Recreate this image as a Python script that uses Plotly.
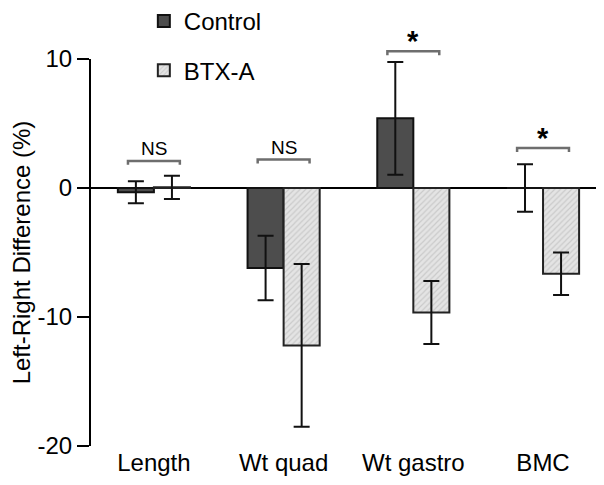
import plotly.graph_objects as go

categories = ["Length", "Wt quad", "Wt gastro", "BMC"]
control_mean = [-0.33, -6.2, 5.4, 0.0]
control_err = [0.85, 2.5, 4.37, 1.85]
btx_mean = [0.05, -12.2, -9.65, -6.65]
btx_err = [0.9, 6.3, 2.45, 1.65]
sig_labels = ["NS", "NS", "*", "*"]
bracket_y = [2.1, 2.2, 10.6, 3.1]
y_ticks = [-20, -10, 0, 10]
y_tick_text = ["-20", "-10", "0", "10"]

FONT = "Liberation Sans, Arial, sans-serif"
X_RANGE = [-0.485, 3.47]
Y_RANGE = [-20, 10]


def px(xv):
    return (xv - X_RANGE[0]) / (X_RANGE[1] - X_RANGE[0])


def py(yv):
    return (yv - Y_RANGE[0]) / (Y_RANGE[1] - Y_RANGE[0])


fig = go.Figure()
fig.add_trace(go.Bar(
    x=categories, y=control_mean, name="Control", legendgroup="c",
    marker=dict(color="#4d4d4d", line=dict(color="#111111", width=2)),
    error_y=dict(type="data", array=control_err, color="#111111", thickness=2, width=8),
))
fig.add_trace(go.Bar(
    x=categories, y=btx_mean, name="BTX-A", legendgroup="b",
    marker=dict(color="#dedede", line=dict(color="#222222", width=2),
                pattern=dict(shape="/", size=4, fgcolor="#b0b0b0", bgcolor="#e4e4e4", solidity=0.3)),
    error_y=dict(type="data", array=btx_err, color="#111111", thickness=2, width=8),
))

shapes = []
annotations = []
half = 0.2
drop = 0.3
for i, (lab, by) in enumerate(zip(sig_labels, bracket_y)):
    x0, x1 = px(i - half), px(i + half)
    y0, y1 = py(by - drop), py(by)
    shapes.append(dict(
        type="path", xref="paper", yref="paper",
        path=f"M {x0} {y0} L {x0} {y1} L {x1} {y1} L {x1} {y0}",
        line=dict(color="#6e6e6e", width=2.5),
    ))
    if lab == "*":
        annotations.append(dict(x=px(i), y=y1, xref="paper", yref="paper", text="<b>*</b>", showarrow=False,
                                xanchor="center", yanchor="bottom", yshift=-8,
                                font=dict(family=FONT, size=29, color="black")))
    else:
        annotations.append(dict(x=px(i), y=y1, xref="paper", yref="paper", text=lab, showarrow=False,
                                xanchor="center", yanchor="bottom", yshift=0,
                                font=dict(family=FONT, size=19, color="black")))

fig.update_layout(
    width=596, height=477,
    margin=dict(l=83, r=0, t=51, b=39, autoexpand=False),
    paper_bgcolor="white", plot_bgcolor="white",
    barmode="group", bargap=0.444, bargroupgap=0,
    font=dict(family=FONT, size=24, color="black"),
    showlegend=True,
    legend=dict(x=0.103, y=1.155, xanchor="left", yanchor="top", bgcolor="rgba(0,0,0,0)",
                font=dict(family=FONT, size=24), tracegroupgap=15, traceorder="grouped"),
    shapes=shapes, annotations=annotations,
    xaxis=dict(range=X_RANGE, showline=False, ticks="", showgrid=False, zeroline=False,
               automargin=False, tickfont=dict(family=FONT, size=24)),
    yaxis=dict(range=Y_RANGE, tickvals=y_ticks, ticktext=y_tick_text, showline=True,
               linecolor="black", linewidth=2,
               ticks="outside", ticklen=12, tickwidth=2, tickcolor="black", showgrid=False,
               zeroline=True, zerolinecolor="black", zerolinewidth=2, automargin=False,
               title=dict(text="Left-Right Difference (%)", font=dict(family=FONT, size=24)),
               tickfont=dict(family=FONT, size=24)),
)

fig.write_html("out.html")
